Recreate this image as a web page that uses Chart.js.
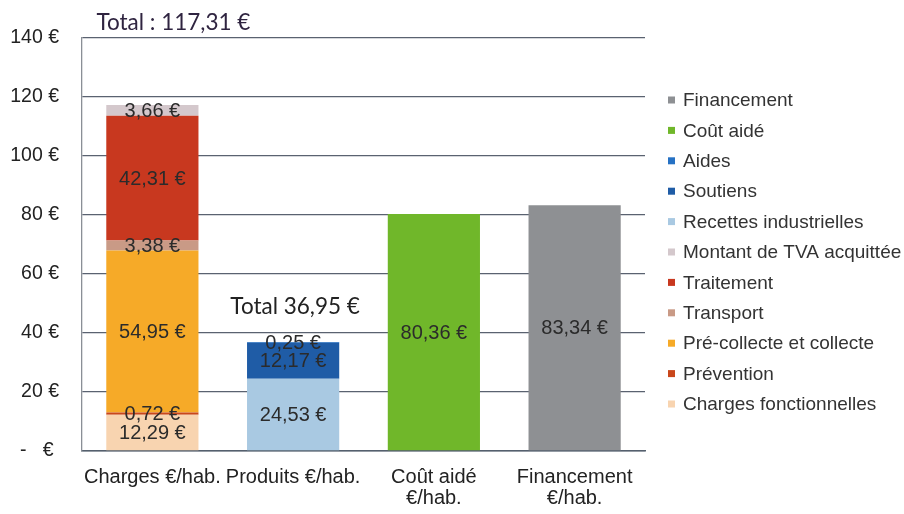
<!DOCTYPE html>
<html><head><meta charset="utf-8">
<script src="https://cdn.jsdelivr.net/npm/chart.js@4/dist/chart.umd.min.js"></script>
<style>html,body{margin:0;padding:0;background:#fff}#wrap{width:904px;height:514px}</style>
</head><body><div id="wrap"><canvas id="c"></canvas></div>
<script>
const categories = [["Charges €/hab."], ["Produits €/hab."], ["Coût aidé", "€/hab."], ["Financement", "€/hab."]];
const yTicks = [0, 20, 40, 60, 80, 100, 120, 140];
const chargesFonctionnelles = [12.29, null, null, null];
const prevention = [0.72, null, null, null];
const precollecte = [54.95, null, null, null];
const transport = [3.38, null, null, null];
const traitement = [42.31, null, null, null];
const tva = [3.66, null, null, null];
const recettes = [null, 24.53, null, null];
const soutiens = [null, 12.17, null, null];
const aides = [null, 0.25, null, null];
const coutAide = [null, null, 80.36, null];
const financement = [null, null, null, 83.34];

const seriesNames = ["Charges fonctionnelles","Prévention","Pré-collecte et collecte","Transport","Traitement","Montant de TVA acquittée","Recettes industrielles","Soutiens","Aides","Coût aidé","Financement"];
const seriesData = [chargesFonctionnelles,prevention,precollecte,transport,traitement,tva,recettes,soutiens,aides,coutAide,financement];
const seriesColors = ["#f8d4b0","#c9471b","#f6aa28","#c99a86","#c8381f","#d4c8cc","#a9c9e2","#1f5ca6","#2571c4","#70b72a","#8e9093"];

const fmt = v => v.toFixed(2).replace('.', ',') + ' €';
const ARIAL = '"Liberation Sans", Arial, sans-serif';

const labelPlugin = {
  id: 'lbl',
  afterDatasetsDraw(chart) {
    const ctx = chart.ctx;
    ctx.save();
    ctx.font = '20px ' + ARIAL;
    ctx.fillStyle = '#2b2b2b';
    ctx.textAlign = 'center';
    ctx.textBaseline = 'middle';
    chart.data.datasets.forEach((ds, i) => {
      const meta = chart.getDatasetMeta(i);
      meta.data.forEach((el, j) => {
        const v = ds.data[j];
        if (v == null) return;
        ctx.fillText(fmt(v), el.x, (el.y + el.base) / 2 + 1);
      });
    });
    // totals
    ctx.font = '22.5px Lato, "Open Sans", sans-serif';
    ctx.fillStyle = '#2f2440';
    const tot0 = seriesData.slice(0, 6).reduce((s, a) => s + (a[0] || 0), 0);
    const tot1 = seriesData.slice(6, 9).reduce((s, a) => s + (a[1] || 0), 0);
    const x0 = chart.scales.x.getPixelForValue(0);
    const x1 = chart.scales.x.getPixelForValue(1);
    ctx.textAlign = 'left';
    ctx.fillText('Total : ' + tot0.toFixed(2).replace('.', ',') + ' €', x0 - 56, chart.chartArea.top - 15);
    ctx.textAlign = 'center';
    ctx.fillStyle = '#222';
    ctx.fillText('Total ' + tot1.toFixed(2).replace('.', ',') + ' €', x1 + 2, chart.scales.y.getPixelForValue(tot1) - 35);
    ctx.restore();
  },
  afterDraw(chart) {
    // legend (reverse order), drawn from the datasets
    const ctx = chart.ctx;
    const ca = chart.chartArea;
    const ds = chart.data.datasets;
    const step = 30.4;
    const n = ds.length;
    const y0 = (ca.top + ca.bottom) / 2 + 7.5 - step * (n - 1) / 2;
    const bx = ca.right + 23;
    ctx.save();
    ctx.font = '19px ' + ARIAL;
    ctx.textBaseline = 'middle';
    ctx.textAlign = 'left';
    for (let k = 0; k < n; k++) {
      const d = ds[n - 1 - k];
      const y = y0 + k * step;
      ctx.fillStyle = d.backgroundColor;
      ctx.fillRect(bx, y - 3.5, 7, 7);
      ctx.fillStyle = '#333';
      ctx.fillText(d.label, bx + 15, y + 1);
    }
    ctx.restore();
  }
};

new Chart(document.getElementById('c'), {
  type: 'bar',
  data: {
    labels: categories,
    datasets: seriesNames.map((n, i) => ({
      label: n, data: seriesData[i], backgroundColor: seriesColors[i],
      borderWidth: 0, stack: 's', categoryPercentage: 1, barPercentage: 0.655
    }))
  },
  options: {
    responsive: true, maintainAspectRatio: false, animation: false,
    layout: { padding: { top: 38, right: 259, left: 0, bottom: 0 } },
    plugins: {
      tooltip: { enabled: false },
      legend: { display: false }
    },
    scales: {
      x: {
        stacked: true,
        grid: { display: false, drawTicks: false },
        border: { display: true, color: '#55606e', width: 1.5 },
        ticks: { color: '#222', padding: 16, font: { family: ARIAL, size: 20, lineHeight: 1.05 }, maxRotation: 0, autoSkip: false },
        afterFit: s => { s.height = 63; }
      },
      y: {
        stacked: true, min: 0, max: 140,
        afterBuildTicks: s => { s.ticks = yTicks.map(v => ({ value: v })); },
        grid: { color: '#5a6270', lineWidth: 1.3, drawTicks: false },
        border: { display: true, color: '#8a8f96', width: 1.3 },
        ticks: {
          color: '#222', padding: 23,
          font: { family: ARIAL, size: 19.5 },
          callback: v => v === 0 ? '-   € ' : v + ' €'
        },
        afterFit: s => { s.width = 82; }
      }
    }
  },
  plugins: [labelPlugin]
});
</script></body></html>
